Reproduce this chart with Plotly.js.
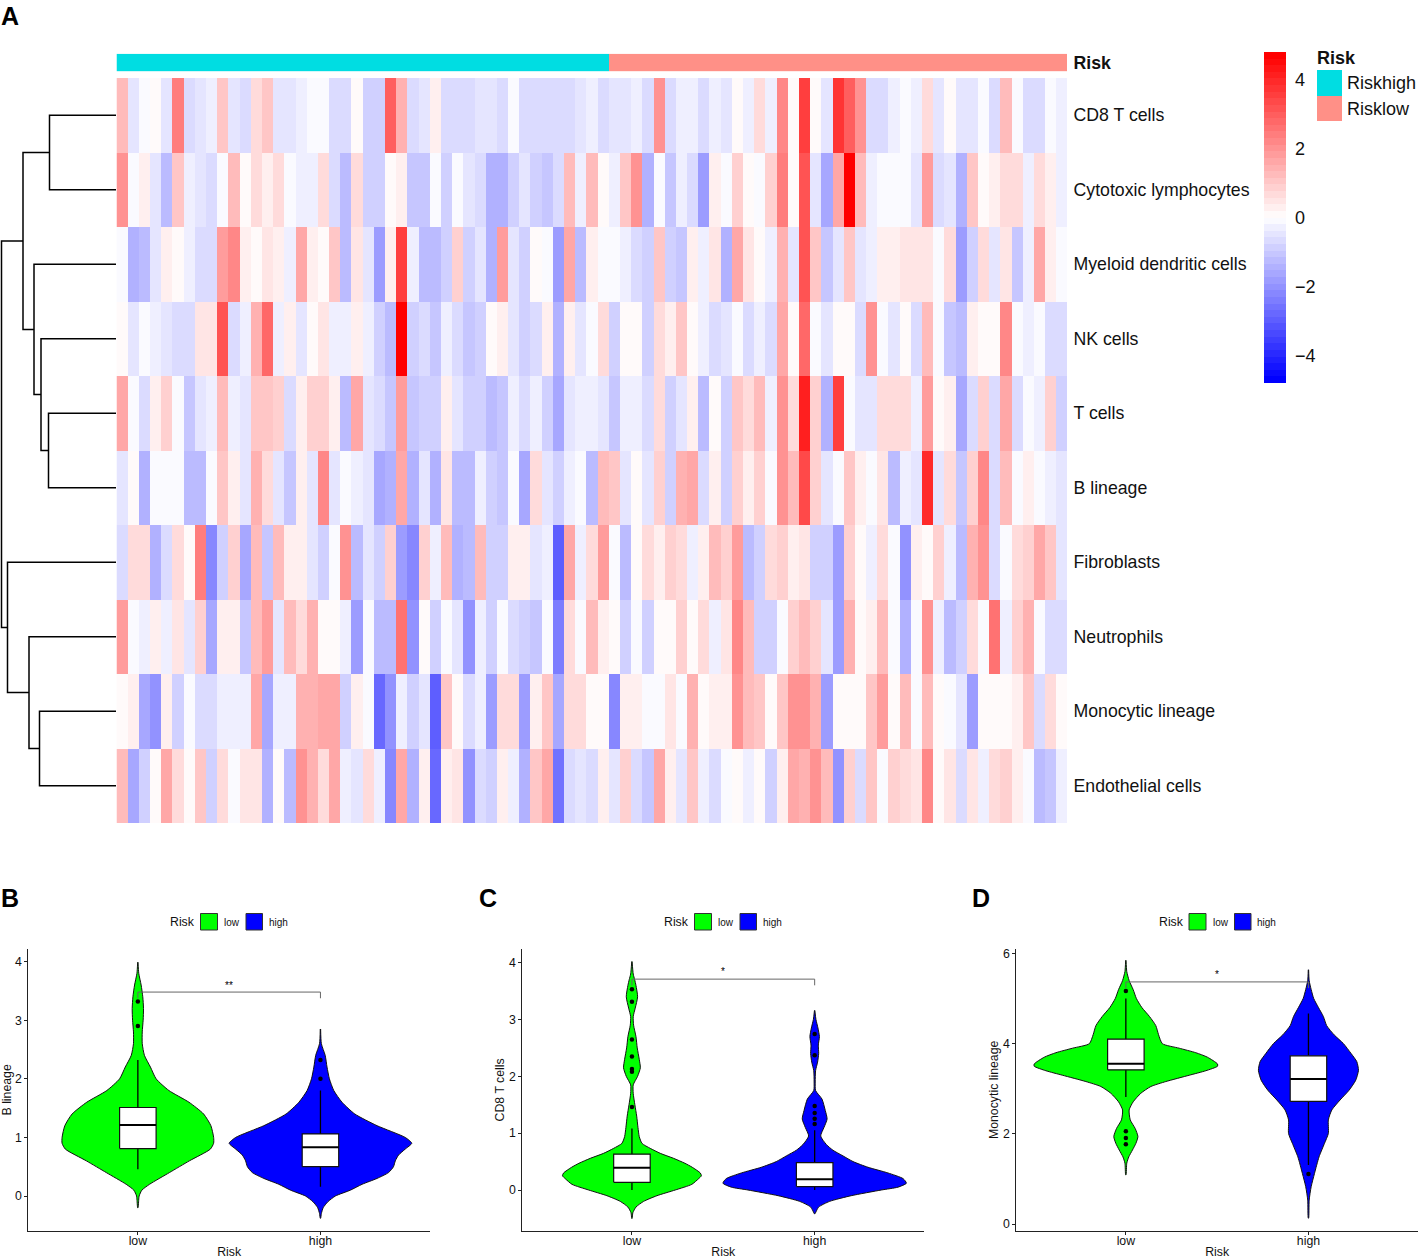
<!DOCTYPE html>
<html><head><meta charset="utf-8">
<script src="https://cdn.plot.ly/plotly-3.0.1.min.js"></script>
<style>html,body{margin:0;padding:0;background:#fff}#c{width:1418px;height:1259px}</style>
</head><body><div id="c"></div>
<script>
const W=1418,H=1259;
const rowNames=["CD8 T cells","Cytotoxic lymphocytes","Myeloid dendritic cells","NK cells","T cells","B lineage","Fibroblasts","Neutrophils","Monocytic lineage","Endothelial cells"];
const cd8=[1.2,-.55,-.15,.1,-.55,2.4,-.75,-.55,-.3,1.0,-.5,-.7,.75,1.05,-.5,-.55,-.3,-.1,-.1,-.75,-.75,.1,-.8,-.8,2.9,1.4,-.75,-.55,.3,-.7,-.7,-.7,-.55,-.55,-.75,-.1,-.7,-.7,-.7,-.7,-.7,-.55,-.3,-.7,-.55,-.55,-.3,-.7,2.1,-.7,-.3,-.3,-.75,-.3,-.55,.1,-.3,.75,-.3,2.2,.05,3.6,.1,-.55,3.8,2.9,2.1,-.6,-.75,-.3,-.1,-.3,.75,-.55,.1,-.55,-.55,-.1,-.7,1.2,-.05,-.7,-.6,-.1,-.3];
const cyto=[2.0,-.1,.3,-.55,-1.3,1.05,-.3,-.5,-.7,-.1,1.2,.1,.75,.3,.6,-.1,-.3,-.3,.6,-.7,-1.3,.7,-.9,-.9,.05,.2,-1.1,-1.1,-.1,-.9,-.05,-.55,-.7,-1.5,-1.4,-.9,-.55,-.9,-1.1,-.6,1.3,-.3,1.2,.1,-.3,1.0,2.0,-1.5,-.02,-1.1,-.3,-.75,-1.8,.35,-.1,.85,.1,-.1,.8,2.4,.1,3.1,-.55,-1.7,1.6,4.8,1.2,-.3,-.1,-.1,-.1,-.5,1.8,-.7,-.55,-1.5,1.05,.1,.3,.65,.65,-.3,.6,.2,-.3];
const mye=[-.15,-1.5,-1.25,-.55,.3,.1,-.3,-.75,-.75,1.8,2.3,.3,.1,.55,.3,-.3,1.7,.35,.1,1.05,-1.25,.55,-.5,-1.9,.35,3.5,-.3,-1.3,-1.3,-.9,.8,-.9,-.5,-1.5,1.9,-.55,-.9,.1,-.1,-1.9,1.6,-1.25,.3,-.1,-.1,-.3,-.7,-.9,1.0,-.8,-1.15,.3,-.3,.55,-1.4,1.6,.55,.1,-.3,1.4,-.55,3.1,1.05,-1.15,-.55,1.15,-.5,-.3,.3,.3,.5,.5,.5,-.1,.75,-1.8,-.9,.75,-.55,.55,-1.15,-.3,1.6,.3,-.1];
const nk=[.1,-.5,-.1,-.3,-.5,-.65,-.65,.55,.55,3.2,-.75,-.3,1.4,2.8,-.3,.3,-.5,.1,.5,-.3,-.3,.2,-.3,-.9,-1.3,4.8,-.9,-.7,-1.1,-.3,-.7,-1.15,-.8,.1,.3,-.55,-.9,-.7,.3,-1.4,.3,-.5,-.05,.6,-.9,.1,.1,-.8,.6,.3,1.05,.1,-.3,-.7,-.5,-.1,-.7,-.3,-.7,1.6,.05,2.7,-.05,-.5,.1,.1,-.75,2.0,-.1,-.5,.05,-.7,1.3,-.1,-1.0,-1.2,.3,.15,.15,2.3,-.1,-.3,-.05,-.7,-.7];
const tcell=[1.7,-.1,-.7,.35,.85,-.05,-1.15,-.55,-.3,1.2,-.3,-.5,1.0,1.0,.85,-.7,.35,.8,.8,.35,-1.25,1.6,-.55,-.65,-1.15,1.8,-1.1,-.9,-.85,.3,-.55,-.9,-.8,-1.3,-1.0,-.3,-.75,-.3,-.8,-1.6,-.55,-.3,-.3,-.5,-1.15,-.3,-.3,-.7,.6,-.8,-.55,.3,-1.3,.05,-.9,1.0,.6,1.2,-.3,2.1,.7,4.2,.85,-1.4,3.6,-.05,-.55,-.55,.6,.75,.75,-.3,1.9,.1,.3,-1.7,-.75,.8,-.7,1.6,-.7,-.05,-.3,.8,-.9];
const bline=[-.5,.1,-1.45,-.1,-.1,-.1,-1.25,-1.25,-.1,1.0,.35,-.5,1.5,.7,-.55,-1.15,.3,-.55,2.3,-.55,-.05,-.3,-.55,-1.6,-1.45,1.7,-1.45,-.55,-1.5,.5,-1.25,-1.25,-.3,-.95,-1.1,-.1,-1.6,.6,-.5,-.85,-.3,-.1,-1.25,1.3,1.15,-.55,.1,-.5,.8,-.95,1.5,1.6,-.7,.3,-.85,.8,.3,.8,-.1,2.0,1.2,3.3,.95,-.55,-.1,1.0,.35,-.1,.4,-1.25,-.3,-.55,4.0,-.55,.6,-1.0,.9,2.3,-.7,1.2,-.1,.3,-.1,-.3,-.55];
const fibro=[-.75,.6,.6,-1.4,-.6,.7,.1,2.4,-2.3,-.85,.9,-1.55,1.3,-1.0,1.3,.35,.35,-.55,-.85,-.1,2.1,-1.3,-.55,-.9,.8,-1.8,-2.2,.95,-.3,1.3,-1.45,-1.25,1.25,-.85,-.85,.35,.35,-.55,-.3,-2.9,1.6,-.3,.7,1.8,-.1,-1.2,.1,.6,.35,.95,.7,-.3,.35,1.3,.85,1.9,-1.2,-.8,.6,.8,.3,.5,-.85,-.85,-1.9,.85,.05,-.3,.7,-.1,-2.1,.3,.15,.95,-.3,-1.25,1.4,2.1,-.75,-.05,.6,.8,1.6,1.0,-.55];
const neut=[1.9,-.1,-.3,.3,-.35,.55,-.5,.85,-1.6,.35,.35,-1.1,1.25,1.8,-.4,1.3,.6,1.4,.1,.1,-.3,-1.9,-.05,-1.3,-1.3,2.6,-2.1,.1,-.85,-.05,-.55,-2.1,-.3,-.85,-.1,-.6,-.85,-1.05,-.1,-2.4,.75,-.1,1.3,.3,.1,-.85,-.1,-.85,.05,.05,.95,.1,.6,-.3,.55,2.3,1.2,-.85,-.95,-.05,.85,1.2,.85,-.55,-1.9,1.5,.05,.3,1.2,-.05,-1.5,-.1,2.1,-.3,-1.3,-.95,.6,-.05,2.6,-.3,.85,1.4,-.05,-.75,-.75];
const mono=[.1,.3,-1.7,-2.0,.3,-.95,-.1,-.75,-.75,-.3,-.3,-.3,1.7,-1.6,-.3,-.3,1.5,1.5,1.6,1.6,-.95,.25,-.1,-2.7,-2.0,-.3,-.9,-.55,-2.9,1.0,.05,-.7,-.3,-1.9,.6,.6,-1.9,.3,1.05,-1.7,.6,.6,.1,.15,-2.2,.3,.3,-.1,-.1,.4,-.1,1.4,.05,.3,.3,2.1,1.2,1.15,.1,1.0,2.0,2.0,1.4,-1.9,.1,.1,.1,1.0,1.9,.1,1.3,-.1,1.3,.05,-.1,-.55,-1.8,.1,.1,.1,.2,1.0,-.7,.6,.1];
const endo=[1.2,-1.7,-.95,.1,1.6,.6,.1,1.1,-.95,.6,-.1,.55,.55,-1.5,.05,-1.2,2.1,1.5,.6,1.6,-.3,-.55,.75,-.3,-2.3,1.6,-1.4,.3,-2.8,.3,.55,-2.1,-.75,-.9,.3,-.3,-1.5,1.0,1.6,-2.5,-.75,-.55,-.7,.3,-.55,.95,-.75,-1.15,1.6,.3,-.55,1.0,-.3,-.7,-.1,.1,-.3,.1,-.9,.3,1.6,1.4,2.0,1.25,-2.1,.9,-.75,1.0,-.1,.95,.7,.5,2.2,.1,.4,-.75,.4,-.3,.6,.9,.3,-.05,-1.2,-1.1,-.3];
const riskHighCount=44, riskLowCount=41;
const riskNames=["Riskhigh","Risklow"];
const dendroLeft=[-1,-5,-4,-3,1,-9,-8,-7,5];
const dendroRight=[-2,-6,2,3,4,-10,6,7,8];
const dendroHeight=[66.5,67.5,75,82,93,76.5,87,108.5,114.5];
const groups=["low","high"];
// violin profiles: y level, half width in axis units
const bLowY=[3.99,3.8,3.6,3.4,3.2,3.0,2.8,2.6,2.4,2.2,2.0,1.8,1.6,1.4,1.2,1.0,.9,.8,.6,.4,.2,.1,0,-.1,-.2];
const bLowW=[.001,.005,.018,.027,.031,.029,.024,.024,.036,.069,.1,.17,.28,.36,.4,.415,.415,.397,.282,.173,.064,.022,.007,.004,.001];
const bHighY=[2.85,2.6,2.4,2.2,2.0,1.8,1.6,1.4,1.2,1.0,.9,.8,.7,.6,.5,.4,.3,.2,.1,0,-.1,-.2,-.3,-.38];
const bHighW=[.001,.005,.026,.036,.049,.073,.118,.188,.31,.464,.5,.464,.428,.41,.4,.373,.31,.228,.164,.082,.04,.015,.005,.001];
const cLowY=[4.02,3.8,3.7,3.6,3.4,3.2,3.05,2.9,2.7,2.5,2.3,2.15,2.0,1.85,1.7,1.5,1.3,1.1,.94,.82,.733,.645,.557,.47,.4,.3,.25,.2,.1,0,-.1,-.2,-.3,-.4,-.5];
const cLowW=[.001,.007,.015,.022,.031,.018,.007,.009,.022,.029,.04,.046,.031,.007,.007,.016,.026,.033,.04,.055,.1,.155,.228,.29,.33,.374,.38,.365,.328,.237,.137,.064,.022,.005,.001];
const cHighY=[3.16,3.0,2.85,2.7,2.55,2.4,2.25,2.1,1.9,1.75,1.6,1.4,1.25,1.1,.95,.8,.7,.6,.5,.4,.3,.2,.12,.05,0,-.1,-.2,-.3,-.42];
const cHighW=[.001,.007,.018,.026,.02,.022,.016,.005,.003,.005,.04,.058,.068,.051,.033,.064,.1,.155,.21,.292,.401,.484,.502,.456,.365,.2,.082,.022,.001];
const dLowY=[5.85,5.6,5.4,5.2,5.0,4.8,4.6,4.4,4.2,4.0,3.9,3.8,3.7,3.55,3.5,3.4,3.3,3.16,3.05,2.9,2.71,2.53,2.31,2.12,1.94,1.79,1.64,1.49,1.35,1.09];
const dLowW=[.001,.005,.018,.04,.058,.088,.13,.164,.179,.2,.292,.383,.447,.502,.502,.438,.347,.219,.137,.082,.04,.018,.024,.051,.066,.055,.036,.016,.005,.001];
const dHighY=[5.64,5.4,5.2,5.0,4.8,4.6,4.4,4.19,4.0,3.78,3.6,3.41,3.19,2.97,2.75,2.53,2.31,2.01,1.79,1.49,1.12,.83,.53,.13];
const dHighW=[.001,.004,.015,.029,.055,.082,.1,.142,.192,.234,.265,.274,.259,.223,.173,.128,.109,.109,.088,.058,.033,.015,.004,.001];
// box summaries: [low, high]
const bQ1=[.81,.5],bMed=[1.21,.83],bQ3=[1.51,1.06],bLo=[.455,.16],bHi=[2.32,1.8];
const cQ1=[.135,.06],cMed=[.39,.19],cQ3=[.63,.48],cLo=[0,0],cHi=[1.08,1.05];
const dQ1=[3.42,2.72],dMed=[3.555,3.215],dQ3=[4.1,3.73],dLo=[2.82,1.31],dHi=[5.0,4.67];
const bOutLow=[3.32,2.9],bOutHigh=[2.32,2.0];
const cOutLow=[3.53,3.31,2.65,2.35,2.13,2.08,1.46],cOutHigh=[2.745,2.37,1.48,1.355,1.255,1.16];
const dOutLow=[5.17,2.06,1.91,1.77],dOutHigh=[1.11];
const yTickB=[0,1,2,3,4],yTickC=[0,1,2,3,4],yTickD=[0,2,4,6];
const bracketB=3.48,bracketC=3.71,bracketD=5.37;
const sigB="**",sigC="*",sigD="*";

const FONT="Liberation Sans, Arial, sans-serif";
const dx=(a,b)=>[a/W,b/W], dy=(t,b)=>[1-b/H,1-t/H];
const heat=[cd8,cyto,mye,nk,tcell,bline,fibro,neut,mono,endo];
// pheatmap-like 50 step palette
const steps=50, cs=[];
for(let i=0;i<steps;i++){
  const t=i/(steps-1);let r,g,b;
  if(t<.5){r=g=Math.round(510*t);b=255}else{r=255;g=b=Math.round(255*(2-2*t))}
  const c=`rgb(${r},${g},${b})`;
  cs.push([i/steps,c]);cs.push([(i+1)/steps,c]);
}
const traces=[];
traces.push({type:'heatmap',z:heat,y:rowNames,x:heat[0].map((_,i)=>i),xaxis:'x',yaxis:'y',zmin:-4.8,zmax:4.8,colorscale:cs,hoverinfo:'skip',
 colorbar:{x:1264/W,xanchor:'left',y:1-52/H,yanchor:'top',thickness:22,thicknessmode:'pixels',len:331,lenmode:'pixels',xpad:0,ypad:0,outlinewidth:0,
  tickvals:[-4,-2,0,2,4],ticktext:['\u22124','\u22122','0','2','4'],ticks:'outside',ticklen:6,tickcolor:'rgba(0,0,0,0)',tickfont:{family:FONT,size:18,color:'#111'}}});
const strip=[[...Array(riskHighCount).fill(0),...Array(riskLowCount).fill(1)]];
traces.push({type:'heatmap',z:strip,y:['<b>Risk</b>'],x:strip[0].map((_,i)=>i),xaxis:'x2',yaxis:'y2',zmin:0,zmax:1,showscale:false,hoverinfo:'skip',
 colorscale:[[0,'#00DDE2'],[.5,'#00DDE2'],[.5,'#FF9087'],[1,'#FF9087']]});
// dendrogram from merge table
const nodes=[];const pos=id=>id<0?{h:0,y:-id-1}:nodes[id-1];
const dX=[],dY=[];
dendroHeight.forEach((h,i)=>{
  const a=pos(dendroLeft[i]),b=pos(dendroRight[i]);
  dX.push(a.h,h,h,b.h,null);dY.push(a.y,a.y,b.y,b.y,null);
  nodes.push({h,y:(a.y+b.y)/2});
});
traces.push({type:'scatter',mode:'lines',x:dX,y:dY,xaxis:'x3',yaxis:'y3',line:{color:'#000',width:1.5},hoverinfo:'skip',showlegend:false});

const GREEN='#00FF00',BLUE='#0000FF';
const yr={x4:[-.592,4.215],x5:[-.716,4.24],x6:[-.148,6.1]};
function panel(ax,ay,lowY,lowW,highY,highW,q1,med,q3,lo,hi,outLow,outHigh,br){
  const base={type:'scatter',xaxis:ax,yaxis:ay,hoverinfo:'skip',showlegend:false};
  [[1,lowY,lowW,GREEN],[2,highY,highW,BLUE]].forEach(([c,y,w,col])=>{
    traces.push({...base,mode:'lines',fill:'toself',fillcolor:col,line:{color:'#111',width:1,shape:'spline',smoothing:.6},
      x:[...w.map(v=>c+v),...w.slice().reverse().map(v=>c-v)],y:[...y,...y.slice().reverse()]});
  });
  [0,1].forEach(i=>{
    const c=i+1;
    traces.push({...base,mode:'lines',x:[c,c,null,c,c],y:[hi[i],q3[i],null,q1[i],lo[i]],line:{color:'#000',width:1.3}});
    traces.push({...base,mode:'lines',fill:'toself',fillcolor:'#fff',x:[c-.1,c+.1,c+.1,c-.1,c-.1],y:[q1[i],q1[i],q3[i],q3[i],q1[i]],line:{color:'#111',width:1.2}});
    traces.push({...base,mode:'lines',x:[c-.1,c+.1],y:[med[i],med[i]],line:{color:'#000',width:2}});
  });
  traces.push({...base,mode:'markers',x:[...outLow.map(()=>1),...outHigh.map(()=>2)],y:[...outLow,...outHigh],marker:{color:'#000',size:4.5}});
  const rng=yr[ax];const d=(rng[1]-rng[0])*.022;
  traces.push({...base,mode:'lines',x:[1,1,2,2],y:[br-d,br,br,br-d],line:{color:'#666',width:1}});
}
panel('x4','y4',bLowY,bLowW,bHighY,bHighW,bQ1,bMed,bQ3,bLo,bHi,bOutLow,bOutHigh,bracketB);
panel('x5','y5',cLowY,cLowW,cHighY,cHighW,cQ1,cMed,cQ3,cLo,cHi,cOutLow,cOutHigh,bracketC);
panel('x6','y6',dLowY,dLowW,dHighY,dHighW,dQ1,dMed,dQ3,dLo,dHi,dOutLow,dOutHigh,bracketD);

const xViolin=(l,r)=>({domain:dx(l,r),range:[.4,2.6],tickvals:[1,2],ticktext:groups,showgrid:false,zeroline:false,showline:true,linecolor:'#222',linewidth:1,ticks:'outside',ticklen:3,tickcolor:'#222',ticklabelstandoff:-4,tickfont:{family:FONT,size:12.3,color:'#111'},title:{text:'Risk',font:{family:FONT,size:12.3,color:'#111'},standoff:10}});
const yViolin=(r,t,name)=>({domain:dy(949,1230.7),range:r,tickvals:t,showgrid:false,zeroline:false,showline:true,linecolor:'#222',linewidth:1,ticks:'outside',ticklen:3,tickcolor:'#222',tickfont:{family:FONT,size:12.3,color:'#111'},title:{text:name,font:{family:FONT,size:12.3,color:'#111'},standoff:1}});
const shapes=[],annotations=[];
const txt=(text,x,y,size,opt={})=>annotations.push({text,x:(x-2)/W,y:1-y/H,xref:'paper',yref:'paper',showarrow:false,xanchor:'left',yanchor:'middle',font:{family:FONT,size,color:'#111'},...opt});
txt('<b>A</b>',1,16,25,{font:{family:FONT,size:25,color:'#000'}});
txt('<b>B</b>',1,898,25,{font:{family:FONT,size:25,color:'#000'}});
txt('<b>C</b>',479,898,25,{font:{family:FONT,size:25,color:'#000'}});
txt('<b>D</b>',972,898,25,{font:{family:FONT,size:25,color:'#000'}});
// heatmap side legend
const box=(x0,y0,x1,y1,fill,line)=>shapes.push({type:'rect',xref:'paper',yref:'paper',x0:x0/W,x1:x1/W,y0:1-y0/H,y1:1-y1/H,fillcolor:fill,line:line||{width:0}});
box(1317,70,1342,96,'#00DDE2');box(1317,96,1342,121,'#FF9087');
txt('<b>Risk</b>',1317,58,18);
txt(riskNames[0],1347,83,18);txt(riskNames[1],1347,109,18);
// violin legends
[0,494,988.5].forEach(o=>{
  txt('Risk',170+o,922,12.3);
  box(200.5+o,913.5,217.5+o,930,GREEN,{color:'#333',width:1});
  box(246+o,913.5,262.5+o,930,BLUE,{color:'#333',width:1});
  txt(groups[0],224+o,922,10);txt(groups[1],268.7+o,922,10);
});
const sig=(ax,ay,text,y)=>annotations.push({text,x:1.5,y,xref:ax,yref:ay,showarrow:false,font:{family:FONT,size:10,color:'#000'},yanchor:'middle'});
sig('x4','y4',sigB,3.6);sig('x5','y5',sigC,3.84);sig('x6','y6',sigD,5.54);

const layout={width:W,height:H,margin:{l:0,r:0,t:0,b:0},paper_bgcolor:'#fff',plot_bgcolor:'rgba(0,0,0,0)',showlegend:false,font:{family:FONT},
 xaxis:{domain:dx(116.5,1067),range:[-.5,84.5],visible:false},
 yaxis:{domain:dy(78,823),autorange:'reversed',side:'right',anchor:'x',ticks:'outside',ticklen:2,tickcolor:'rgba(0,0,0,0)',showgrid:false,zeroline:false,showline:false,tickfont:{family:FONT,size:17.7,color:'#111'}},
 xaxis2:{domain:dx(116.5,1067),range:[-.5,84.5],visible:false,anchor:'y2'},
 yaxis2:{domain:dy(53.7,71.3),side:'right',anchor:'x2',ticks:'outside',ticklen:2,tickcolor:'rgba(0,0,0,0)',showgrid:false,zeroline:false,showline:false,tickfont:{family:FONT,size:17.7,color:'#111'}},
 xaxis3:{domain:dx(0,116),range:[116,0],visible:false,anchor:'y3'},
 yaxis3:{domain:dy(78,823),range:[9.5,-.5],visible:false,anchor:'x3'},
 xaxis4:{...xViolin(28.3,430),anchor:'y4'},yaxis4:{...yViolin(yr.x4,yTickB,'B lineage'),anchor:'x4'},
 xaxis5:{...xViolin(522.3,924.3),anchor:'y5'},yaxis5:{...yViolin(yr.x5,yTickC,'CD8 T cells'),anchor:'x5'},
 xaxis6:{...xViolin(1016.3,1418),anchor:'y6'},yaxis6:{...yViolin(yr.x6,yTickD,'Monocytic lineage'),anchor:'x6'},
 shapes,annotations};
Plotly.newPlot('c',traces,layout,{displayModeBar:false,staticPlot:true});
</script></body></html>
